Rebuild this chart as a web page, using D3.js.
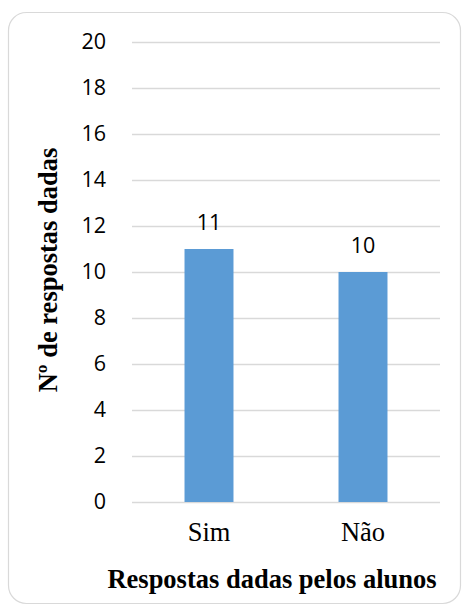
<!DOCTYPE html>
<html><head><meta charset="utf-8">
<script src="https://cdn.jsdelivr.net/npm/d3@7"></script>
<style>html,body{margin:0;padding:0;background:#fff;}</style>
</head><body>
<svg id="chart" width="462" height="610"></svg>
<script>
const categories = ["Sim", "Não"];
const values = [11, 10];
const yTicks = [0, 2, 4, 6, 8, 10, 12, 14, 16, 18, 20];
const yTitle = "Nº de respostas dadas";
const xTitle = "Respostas dadas pelos alunos";

const svg = d3.select("#chart");
svg.append("rect").attr("x", 8.5).attr("y", 12.5).attr("width", 452).attr("height", 591)
  .attr("rx", 18).attr("fill", "#fff").attr("stroke", "#d9d9d9").attr("stroke-width", 1.2);

const mLeft = 132, mRight = 440, mTop = 42, mBottom = 502;
const x = d3.scaleBand().domain(categories).range([mLeft, mRight]).paddingInner(0.682).paddingOuter(0.341);
const y = d3.scaleLinear().domain([0, 20]).range([mBottom, mTop]);

const yAxis = svg.append("g").attr("transform", `translate(${mLeft},0)`)
  .call(d3.axisLeft(y).tickValues(yTicks).tickSize(-(mRight - mLeft)).tickPadding(26));
yAxis.select(".domain").remove();
yAxis.selectAll(".tick line").attr("stroke", "#d9d9d9").attr("stroke-width", 1.5);
yAxis.selectAll(".tick text").attr("font-family", "'Open Sans', sans-serif").attr("font-size", 21.5).attr("fill", "#000");

svg.selectAll(".bar").data(values).join("rect").attr("class", "bar")
  .attr("x", (d, i) => x(categories[i])).attr("width", x.bandwidth())
  .attr("y", d => y(d)).attr("height", d => y(0) - y(d)).attr("fill", "#5b9bd5");

svg.selectAll(".lbl").data(values).join("text").attr("class", "lbl")
  .attr("x", (d, i) => x(categories[i]) + x.bandwidth() / 2).attr("y", d => y(d) - 19)
  .attr("text-anchor", "middle").attr("font-family", "'Open Sans', sans-serif").attr("font-size", 21.5).attr("fill", "#000")
  .text(d => d);

const xAxis = svg.append("g").attr("transform", `translate(0,${mBottom})`)
  .call(d3.axisBottom(x).tickSize(0).tickPadding(0));
xAxis.select(".domain").remove();
xAxis.selectAll(".tick text").attr("dy", null).attr("y", 39)
  .attr("font-family", "'Liberation Serif', serif").attr("font-size", 26.5).attr("fill", "#000");

svg.append("text").attr("x", 272).attr("y", 588).attr("text-anchor", "middle")
  .attr("font-family", "'Liberation Serif', serif").attr("font-weight", "bold").attr("font-size", 26.5)
  .text(xTitle);
svg.append("text").attr("transform", "translate(57,270) rotate(-90)").attr("text-anchor", "middle")
  .attr("font-family", "'Liberation Serif', serif").attr("font-weight", "bold").attr("font-size", 26.5)
  .text(yTitle);
</script>
</body></html>
